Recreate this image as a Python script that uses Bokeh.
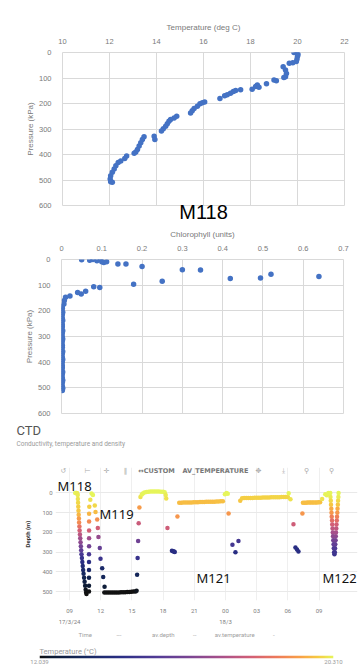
import numpy as np
from bokeh.plotting import figure
from bokeh.layouts import column
from bokeh.models import (Range1d, FixedTicker, Label, Title, LinearAxis,
                          LinearColorMapper, ColumnDataSource)
from bokeh.embed import file_html
from bokeh.resources import INLINE

# ---------------- Chart 1 : M118 temperature profile ----------------
m118_temp = [19.85, 19.95, 20.0, 20.02, 20.0, 19.98, 19.95, 19.8, 19.65, 19.39, 19.49, 19.53,
             19.49, 19.42, 19.0, 19.1, 18.68, 18.29, 18.22, 18.36, 18.07, 17.58, 17.37, 17.27,
             17.15, 17.01, 16.9, 16.7, 16.05, 15.95, 15.85, 15.74, 15.6, 15.52, 15.45, 14.86,
             14.75, 14.6, 14.53, 14.46, 14.39, 14.29, 14.21, 13.9, 13.93, 13.47, 13.4, 13.33,
             13.26, 13.19, 13.12, 13.05, 12.73, 12.65, 12.48, 12.37, 12.27, 12.2, 12.12, 12.05,
             12.03, 12.05, 12.12]
m118_temp_p = [0, 0, 2, 8, 15, 25, 35, 40, 42, 56, 69, 82,
               95, 98, 108, 111, 123, 127, 133, 136, 144, 146, 149, 153,
               160, 166, 170, 180, 194, 197, 201, 211, 220, 228, 237, 250,
               257, 263, 270, 279, 289, 299, 308, 328, 341, 330, 341, 354,
               367, 380, 390, 395, 406, 416, 425, 431, 444, 457, 470, 483,
               496, 507, 509]
temp_ticks = [10, 12, 14, 16, 18, 20, 22]
pressure_ticks = [0, 100, 200, 300, 400, 500, 600]

# ---------------- Chart 2 : M118 chlorophyll profile ----------------
m118_chl = [0.05, 0.07, 0.078, 0.088, 0.097, 0.1, 0.105, 0.112, 0.14, 0.16, 0.2, 0.3, 0.345,
            0.419, 0.494, 0.52, 0.639, 0.179, 0.25, 0.08, 0.095, 0.04, 0.049, 0.06, 0.021,
            0.01, 0.007, 0.006, 0.002,
            0.002, 0.001, 0.003, 0.002, 0.001, 0.002, 0.003, 0.001, 0.002, 0.002, 0.001,
            0.003, 0.002, 0.001, 0.002, 0.003, 0.002, 0.001, 0.002, 0.002, 0.001, 0.003,
            0.002, 0.001, 0.002, 0.003, 0.002, 0.001, 0.002, 0.002, 0.001, 0.003, 0.002,
            0.001, 0.002, 0.003, 0.002, 0.001, 0.002, 0.003, 0.002]
m118_chl_p = [1, 3, 0, 5, 1, 9, 12, 9, 18, 18, 27, 40, 41,
              74, 72, 57, 66, 96, 85, 106, 109, 129, 134, 124, 142,
              147, 160, 173, 184,
              190, 198, 206, 214, 222, 230, 238, 246, 254, 262, 270,
              278, 286, 294, 302, 310, 318, 326, 334, 342, 350, 358,
              366, 374, 382, 390, 398, 406, 414, 422, 430, 438, 446,
              454, 462, 470, 478, 486, 494, 502, 510]
chl_ticks = [0, 0.1, 0.2, 0.3, 0.4, 0.5, 0.6, 0.7]
chl_labels = ["0", "0.1", "0.2", "0.3", "0.4", "0.5", "0.6", "0.7"]

# ---------------- Chart 3 : CTD time/depth (hours since 17/3 00:00) ----------------
m118_h = [9.55, 9.62, 9.68, 9.74, 9.79, 9.80, 9.82, 9.84, 9.86, 9.88, 9.90, 9.92, 9.95, 9.97,
          10.00, 10.03, 10.06, 10.09, 10.12, 10.15, 10.19, 10.23, 10.27, 10.31, 10.35, 10.40,
          10.45, 10.50, 10.55, 10.60, 10.63]
m118_d = [0, 0, 0, 2, 10, 30, 50, 70, 90, 110, 130, 150, 170, 190, 210, 230, 250, 270, 290,
          310, 330, 350, 370, 390, 410, 430, 450, 470, 490, 505, 512]
m118_t = [20.3, 20.3, 20.25, 20.2, 20.2, 20.1, 20.0, 19.9, 19.8, 19.6, 19.3, 19.0, 18.5, 18.0,
          17.5, 17.0, 16.6, 16.1, 15.6, 15.1, 14.7, 14.3, 13.9, 13.6, 13.3, 13.0, 12.7, 12.4,
          12.2, 12.1, 12.05]

colb_h = [11.12, 11.00, 10.90, 10.88, 10.88, 10.88, 10.88, 10.88, 10.87, 10.87, 10.87, 10.87, 10.87, 10.87]
colb_d = [3, 35, 70, 105, 145, 190, 230, 270, 310, 350, 390, 430, 470, 500]
colb_t = [20.3, 20.1, 19.9, 19.6, 19.0, 18.0, 17.0, 16.1, 15.1, 14.3, 13.6, 13.0, 12.4, 12.1]

colc_h = [11.25, 11.43, 11.50, 11.66, 11.72, 11.78, 11.91, 11.98, 12.14, 12.24, 12.37]
colc_d = [10, 64, 97, 134, 178, 223, 279, 333, 381, 426, 475]
colc_t = [20.3, 20.0, 19.7, 19.1, 18.0, 16.8, 15.8, 14.8, 13.6, 13.2, 12.5]

bottom_h = [12.35, 12.55, 12.75, 12.95, 13.15, 13.35, 13.55, 13.75, 13.95, 14.15, 14.35, 14.55,
            14.75, 14.95, 15.15, 15.35]
bottom_d = [504, 504, 505, 505, 505, 504, 504, 504, 503, 503, 503, 502, 502, 501, 500, 499]
bottom_t = [12.10, 12.08, 12.07, 12.06, 12.06, 12.05, 12.05, 12.05, 12.04, 12.04, 12.05, 12.05,
            12.06, 12.06, 12.07, 12.08]

cole_h = [15.45, 15.50, 15.55, 15.60, 15.65, 15.72, 15.82]
cole_d = [495, 415, 330, 243, 153, 74, 20]
cole_t = [12.2, 13.2, 14.7, 16.0, 17.8, 19.3, 20.1]

hump_h = [15.95, 16.05, 16.20, 16.40, 16.60, 16.80, 17.00, 17.20, 17.40, 17.60, 17.80, 18.00,
          18.15, 18.25, 18.30]
hump_d = [8, 3, -2, -5, -6, -7, -7, -7, -7, -7, -6, -6, -4, 10, 28]
hump_t = [20.25, 20.3, 20.3, 20.3, 20.3, 20.31, 20.31, 20.31, 20.31, 20.31, 20.3, 20.3, 20.3,
          20.2, 20.1]

dive2_h = [18.42, 18.85, 18.95, 19.05, 19.12, 19.38]
dive2_d = [178, 293, 296, 297, 299, 119]
dive2_t = [17.9, 14.3, 14.3, 14.3, 14.3, 19.2]

line1_h = [19.55, 19.75, 19.95, 20.15, 20.35, 20.55, 20.75, 20.95, 21.15, 21.35, 21.55, 21.75,
           21.95, 22.15, 22.35, 22.55, 22.75, 22.95, 23.15, 23.35, 23.55, 23.75]
line1_d = [50, 50, 49, 49, 48, 48, 48, 47, 47, 47, 46, 46, 46, 45, 45, 45, 44, 44, 43, 43, 42, 42]
line1_t = [19.70, 19.68, 19.70, 19.71, 19.70, 19.69, 19.70, 19.72, 19.70, 19.69, 19.70, 19.71,
           19.70, 19.70, 19.72, 19.71, 19.70, 19.72, 19.73, 19.74, 19.75, 19.76]

surf1_h = [23.95, 24.10, 24.22]
surf1_d = [6, 0, 4]
surf1_t = [20.3, 20.31, 20.3]

dive3_h = [24.30, 24.67, 24.96, 25.25]
dive3_d = [104, 262, 300, 243]
dive3_t = [19.2, 15.0, 14.3, 15.0]

line2_h = [25.42, 25.60, 25.80, 26.00, 26.20, 26.40, 26.60, 26.80, 27.00, 27.20, 27.40, 27.60,
           27.80, 28.00, 28.20, 28.40, 28.60, 28.80, 29.00, 29.20, 29.40, 29.60, 29.80, 30.00]
line2_d = [40, 27, 26, 26, 25, 25, 25, 24, 24, 24, 24, 23, 23, 23, 23, 22, 22, 22, 22, 22, 21,
           21, 21, 20]
line2_t = [19.8, 19.9, 19.9, 19.9, 19.92, 19.92, 19.93, 19.93, 19.93, 19.94, 19.94, 19.94,
           19.95, 19.95, 19.95, 19.95, 19.96, 19.96, 19.96, 19.96, 19.97, 19.97, 19.97, 19.98]

surf2_h = [30.08, 30.25]
surf2_d = [2, 32]
surf2_t = [20.3, 20.1]

dive4_h = [30.54, 30.73, 30.88, 31.02, 31.40]
dive4_d = [158, 277, 287, 297, 104]
dive4_t = [17.9, 14.3, 14.3, 14.3, 19.2]

line3_h = [31.45, 31.60, 31.75, 31.90, 32.05, 32.20, 32.35, 32.50, 32.65, 32.80, 32.95, 33.10]
line3_d = [50, 50, 50, 49, 49, 49, 49, 48, 48, 48, 47, 47]
line3_t = [19.70, 19.70, 19.71, 19.70, 19.72, 19.71, 19.70, 19.72, 19.73, 19.72, 19.74, 19.75]

surf3_h = [33.30, 33.60, 33.75, 33.90]
surf3_d = [30, 6, 12, 0]
surf3_t = [20.1, 20.3, 20.25, 20.31]

m122_h = [34.08, 34.10, 34.13, 34.15, 34.18, 34.20, 34.22, 34.25, 34.27, 34.30, 34.32, 34.35,
          34.37, 34.40, 34.42, 34.45, 34.48,
          34.52, 34.54, 34.56, 34.59, 34.61, 34.63, 34.66, 34.68, 34.71, 34.73, 34.76, 34.78,
          34.81, 34.83, 34.86, 34.88]
m122_d = [0, 20, 40, 60, 80, 100, 120, 140, 160, 180, 200, 220, 240, 260, 280, 300, 310,
          300, 280, 260, 240, 220, 200, 180, 160, 140, 120, 100, 80, 60, 40, 20, 0]
m122_t = [20.3, 20.2, 20.0, 19.8, 19.5, 19.2, 18.8, 18.4, 18.0, 17.6, 17.1, 16.6, 16.1, 15.7,
          15.3, 14.9, 14.8,
          14.9, 15.3, 15.7, 16.1, 16.6, 17.1, 17.6, 18.0, 18.4, 18.8, 19.2, 19.5, 19.8, 20.0,
          20.2, 20.3]

time_ticks = [9, 12, 15, 18, 21, 24, 27, 30, 33]
time_labels = ["09", "12", "15", "18", "21", "00", "03", "06", "09"]
date_ticks = [9, 24]
date_labels = ["17/3/24", "18/3"]
depth_ticks = [0, 100, 200, 300, 400, 500]
temp_low, temp_high = 12.039, 20.310
temp_bar_labels = ["12.039", "20.310"]

# ------------- colour palette (thermal-like) -------------
thermal_stops = [(0.00, "#111111"), (0.04, "#0d1b33"), (0.15, "#15285e"), (0.28, "#2b2f86"),
                 (0.40, "#523b96"), (0.52, "#7e4692"), (0.62, "#a9508a"), (0.72, "#d25f76"),
                 (0.81, "#ee7a5a"), (0.89, "#f9a146"), (0.95, "#f6cc42"), (1.00, "#e6f55a")]


def build_palette(stops, n=256):
    fs = np.array([s[0] for s in stops])
    rgb = np.array([[int(c[i:i + 2], 16) for i in (1, 3, 5)] for _, c in stops], dtype=float)
    out = []
    for x in np.linspace(0, 1, n):
        r, g, b = (int(round(np.interp(x, fs, rgb[:, k]))) for k in range(3))
        out.append("#%02x%02x%02x" % (r, g, b))
    return out


palette = build_palette(thermal_stops)
mapper = LinearColorMapper(palette=palette, low=temp_low, high=temp_high)

EXCEL_BLUE = "#4472C4"
GRID = "#d9d9d9"
TXT = "#7a7a7a"


def add_text(p, x, y, text, size, color=TXT, font="Liberation Sans", align="left",
             baseline="middle", style="normal"):
    p.add_layout(Label(x=x, y=y, x_units="canvas", y_units="canvas", text=text,
                       text_font=font, text_font_size=f"{size}px", text_color=color,
                       text_align=align, text_baseline=baseline, text_font_style=style))


def add_title(p, place, text, size, color, font, align="left", offset=0, standoff=0,
              style="normal"):
    p.add_layout(Title(text=text, align=align, offset=offset, standoff=standoff,
                       text_font=font, text_font_size=f"{size}px", text_color=color,
                       text_font_style=style), place)


def style_excel(p, xlabel, ylabel, xticks, xtitle_standoff):
    p.xaxis.ticker = FixedTicker(ticks=xticks)
    p.yaxis.ticker = FixedTicker(ticks=pressure_ticks)
    p.axis.major_tick_line_color = None
    p.axis.minor_tick_line_color = None
    p.axis.major_tick_out = 0
    p.axis.major_tick_in = 0
    p.axis.axis_line_color = None
    p.axis.major_label_text_font = "Liberation Sans"
    p.axis.major_label_text_font_size = "7.5px"
    p.axis.major_label_text_color = TXT
    p.axis.axis_label_text_font = "Liberation Sans"
    p.axis.axis_label_text_font_size = "8px"
    p.axis.axis_label_text_font_style = "normal"
    p.axis.axis_label_text_color = TXT
    p.xaxis.axis_label = xlabel
    p.yaxis.axis_label = ylabel
    p.xaxis.major_label_standoff = 9
    p.xaxis.axis_label_standoff = xtitle_standoff
    p.yaxis.major_label_standoff = 11
    p.yaxis.axis_label_standoff = 1
    p.grid.grid_line_color = GRID
    p.outline_line_color = GRID
    p.background_fill_color = "white"
    p.border_fill_color = "white"


# ---------------- figure 1 ----------------
p1 = figure(width=359, height=225, x_range=Range1d(10, 22), y_range=Range1d(600, 0),
            x_axis_location="above", output_backend="svg", toolbar_location=None, title=None,
            min_border_left=62, min_border_right=15, min_border_top=52, min_border_bottom=20)
p1.frame_align = False
style_excel(p1, "Temperature (deg C)", "Pressure (kPa)", temp_ticks, 4)
p1.scatter(m118_temp, m118_temp_p, size=5.5, color=EXCEL_BLUE, line_color=None)
# big "M118" caption carried by an extra, tick-less axis below the first chart
caption_axis = LinearAxis(ticker=FixedTicker(ticks=[]), axis_label="M118",
                          axis_line_color=None, major_tick_line_color=None,
                          minor_tick_line_color=None, major_tick_out=0, major_tick_in=0,
                          major_label_standoff=0, axis_label_standoff=-5,
                          axis_label_text_font="Liberation Sans",
                          axis_label_text_font_size="20px",
                          axis_label_text_font_style="normal",
                          axis_label_text_color="black")
p1.add_layout(caption_axis, "below")

# ---------------- figure 2 ----------------
p2 = figure(width=359, height=195, x_range=Range1d(0, 0.7), y_range=Range1d(600, 0),
            x_axis_location="above", output_backend="svg", toolbar_location=None, title=None,
            min_border_left=61, min_border_right=16, min_border_top=34, min_border_bottom=7)
p2.frame_align = False
style_excel(p2, "Chlorophyll (units)", "Pressure (kPa)", chl_ticks, 4)
p2.xaxis.major_label_overrides = dict(zip(chl_ticks, chl_labels))
p2.scatter(m118_chl, m118_chl_p, size=5.5, color=EXCEL_BLUE, line_color=None)

# ---------------- figure 3 ----------------
ctd_h = (m118_h + colb_h + colc_h + bottom_h + cole_h + hump_h + dive2_h + line1_h + surf1_h
         + dive3_h + line2_h + surf2_h + dive4_h + line3_h + surf3_h + m122_h)
ctd_d = (m118_d + colb_d + colc_d + bottom_d + cole_d + hump_d + dive2_d + line1_d + surf1_d
         + dive3_d + line2_d + surf2_d + dive4_d + line3_d + surf3_d + m122_d)
ctd_t = (m118_t + colb_t + colc_t + bottom_t + cole_t + hump_t + dive2_t + line1_t + surf1_t
         + dive3_t + line2_t + surf2_t + dive4_t + line3_t + surf3_t + m122_t)
src = ColumnDataSource(dict(h=ctd_h, d=ctd_d, t=ctd_t))

p3 = figure(width=359, height=224, x_range=Range1d(7.65, 36.70), y_range=Range1d(545, -129),
            output_backend="svg", toolbar_location=None, title=None,
            min_border_left=55, min_border_right=2, min_border_top=44, min_border_bottom=44)
p3.frame_align = False
p3.scatter("h", "d", source=src, size=4.5, line_color=None,
           fill_color={"field": "t", "transform": mapper})
p3.xaxis.ticker = FixedTicker(ticks=time_ticks)
p3.xaxis.major_label_overrides = dict(zip(time_ticks, time_labels))
p3.yaxis.ticker = FixedTicker(ticks=depth_ticks)
date_axis = LinearAxis(ticker=FixedTicker(ticks=date_ticks),
                       major_label_overrides=dict(zip(date_ticks, date_labels)))
p3.add_layout(date_axis, "below")
p3.axis.axis_line_color = None
p3.axis.major_tick_line_color = None
p3.axis.minor_tick_line_color = None
p3.axis.major_tick_out = 0
p3.axis.major_tick_in = 0
p3.axis.major_label_text_font = "Roboto"
p3.axis.major_label_text_font_size = "6px"
p3.axis.major_label_text_color = "#808080"
p3.xaxis[0].major_label_standoff = 8
date_axis.major_label_standoff = 2
p3.yaxis.major_label_standoff = 3
p3.yaxis.axis_label = "Depth (m)"
p3.yaxis.axis_label_text_font = "Roboto"
p3.yaxis.axis_label_text_font_size = "6px"
p3.yaxis.axis_label_text_font_style = "bold"
p3.yaxis.axis_label_text_color = "#333333"
p3.yaxis.axis_label_standoff = 8
p3.xgrid.grid_line_color = "#efefef"
p3.ygrid.grid_line_color = "#e9e9e9"
p3.outline_line_color = None

# stacked titles above the CTD frame (first added = closest to the frame)
add_title(p3, "above", " ", 1, "#ffffff", "Roboto", offset=-39, standoff=17)
add_title(p3, "above", "Conductivity, temperature and density", 6.5, "#9a9a9a", "Roboto",
          offset=-39, standoff=0)
add_title(p3, "above", "CTD", 13, "#555555", "Roboto", offset=-39, standoff=0)
em = "\u2003"
legend_row = ("Time" + em * 4 + "---" + em * 5 + "av.depth" + em * 3 + "--" + em * 3
              + "av.temperature" + em * 3 + "-")
add_title(p3, "below", legend_row, 6, "#a0a0a0", "Roboto", offset=23, standoff=3)

for xx, icon in [(63, "↺"), (87, "⊢"), (106, "✛"), (125, "‖"), (258, "✥"),
                 (283, "⤓"), (306, "⚲"), (331, "⚲")]:
    add_text(p3, xx, 50, icon, 7, color="#aaaaaa", font="DejaVu Sans", align="center")
add_text(p3, 156, 50, "↔CUSTOM", 6.5, color="#777777", font="DejaVu Sans", align="center",
         style="bold")
add_text(p3, 215, 50, "AV_TEMPERATURE", 6.5, color="#777777", font="DejaVu Sans",
         align="center", style="bold")
for xx, yy, name in [(57, 65, "M118"), (99, 93, "M119"), (196, 157, "M121"), (322, 157, "M122")]:
    add_text(p3, xx, yy, name, 13, color="#111111", font="Noto Sans", baseline="alphabetic")

# ---------------- figure 4 : colour bar ----------------
p4 = figure(width=359, height=22, x_range=Range1d(temp_low, temp_high), y_range=Range1d(0, 1),
            output_backend="svg", toolbar_location=None, title=None, y_axis_location=None,
            min_border_left=39, min_border_right=26, min_border_top=9, min_border_bottom=8)
p4.frame_align = False
p4.image(image=[np.array([np.linspace(temp_low, temp_high, 256)])], x=temp_low, y=0,
         dw=temp_high - temp_low, dh=1, color_mapper=mapper)
p4.xaxis.ticker = FixedTicker(ticks=[temp_low, temp_high])
p4.xaxis.major_label_overrides = dict(zip([temp_low, temp_high], temp_bar_labels))
p4.xaxis.axis_line_color = None
p4.xaxis.major_tick_line_color = None
p4.xaxis.minor_tick_line_color = None
p4.xaxis.major_tick_out = 0
p4.xaxis.major_tick_in = 0
p4.xaxis.major_label_standoff = 1
p4.xaxis.major_label_text_font = "Roboto"
p4.xaxis.major_label_text_font_size = "6px"
p4.xaxis.major_label_text_color = "#9a9a9a"
p4.grid.visible = False
p4.outline_line_color = None
add_title(p4, "above", "Temperature (°C)", 7.5, "#9a9a9a", "Roboto", offset=0, standoff=0)

layout = column(p1, p2, p3, p4, spacing=0)
open("out.html", "w").write(file_html(layout, INLINE))
